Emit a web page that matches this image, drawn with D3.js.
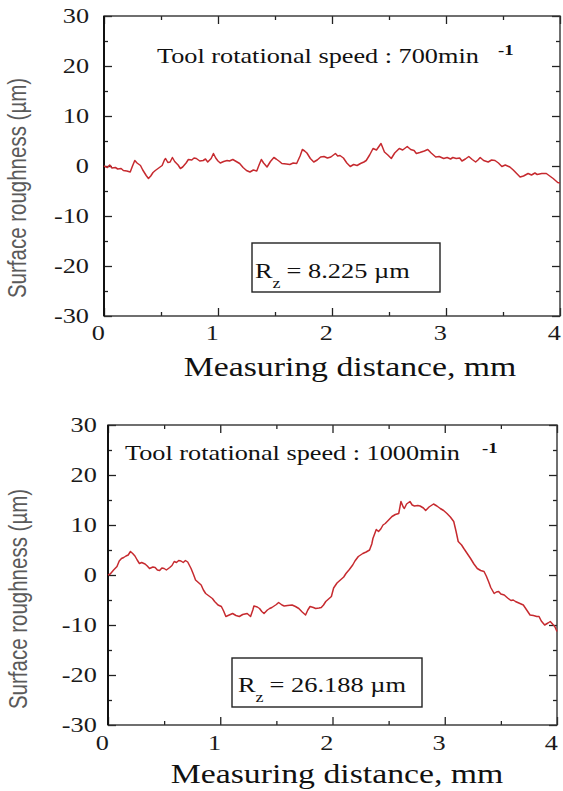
<!DOCTYPE html>
<html>
<head>
<meta charset="utf-8">
<script src="https://cdn.jsdelivr.net/npm/d3@7"></script>
<style>
  body { margin: 0; background: #fff; }
</style>
</head>
<body>
<div id="chart"></div>
<script>
// surface profile, tool speed 700 min^-1 (distance in mm, roughness in um)
const dist700 = [0.00,0.03,0.05,0.07,0.10,0.12,0.15,0.17,0.20,0.23,0.25,0.27,0.29,0.32,0.34,0.37,0.39,0.41,0.43,0.45,
  0.48,0.51,0.53,0.54,0.56,0.58,0.60,0.62,0.65,0.67,0.69,0.72,0.74,0.77,0.79,0.81,0.84,0.87,0.89,0.91,
  0.94,0.96,0.98,1.00,1.02,1.05,1.08,1.10,1.13,1.16,1.19,1.22,1.25,1.28,1.31,1.34,1.36,1.38,1.40,1.43,
  1.46,1.49,1.51,1.54,1.56,1.60,1.63,1.66,1.69,1.72,1.74,1.76,1.78,1.81,1.84,1.87,1.90,1.93,1.96,1.99,
  2.03,2.05,2.07,2.10,2.13,2.16,2.19,2.22,2.25,2.28,2.30,2.33,2.36,2.39,2.43,2.46,2.49,2.52,2.55,2.59,
  2.62,2.66,2.69,2.72,2.74,2.77,2.81,2.84,2.87,2.91,2.94,2.98,3.01,3.04,3.06,3.09,3.12,3.14,3.17,3.20,
  3.23,3.26,3.28,3.30,3.33,3.37,3.40,3.43,3.46,3.49,3.52,3.56,3.59,3.62,3.65,3.68,3.72,3.75,3.78,3.80,
  3.84,3.88,3.91,3.94,3.96,3.98,4.00];
const rough700 = [0.0,-0.3,0.2,-0.4,-0.3,-0.6,-0.5,-0.9,-1.0,-1.2,0.0,1.1,0.6,0.1,-0.8,-1.9,-2.5,-2.0,-1.3,-0.9,
  -0.4,0.1,1.2,1.5,0.7,0.8,1.7,0.9,0.2,-0.5,-0.2,0.6,1.3,1.2,1.6,1.5,1.0,1.1,1.4,0.8,
  1.5,2.5,1.6,1.0,0.6,0.9,1.1,1.0,1.3,0.9,0.5,-0.3,-0.9,-1.2,-0.8,-1.0,0.2,1.3,0.6,-0.2,
  0.9,1.7,1.4,0.9,0.5,0.4,0.3,0.6,0.5,2.0,3.3,3.0,2.6,1.5,0.8,1.2,1.8,1.9,1.6,1.8,
  2.5,2.0,2.1,1.6,0.6,-0.1,0.3,0.1,0.5,0.8,1.1,2.2,3.5,3.2,4.5,2.8,2.2,1.5,2.6,3.5,
  3.2,3.9,3.3,3.1,2.5,2.7,3.0,3.3,2.6,1.8,1.9,1.5,1.7,1.4,1.7,1.5,1.6,1.0,1.4,1.9,
  1.3,0.8,1.2,1.7,1.1,0.8,1.2,1.1,0.6,-0.1,0.2,-0.2,-0.8,-1.5,-2.2,-2.0,-1.5,-1.8,-1.4,-1.7,
  -1.5,-1.5,-2.0,-2.5,-2.9,-3.3,-3.4];

// surface profile, tool speed 1000 min^-1
const dist1000 = [0.00,0.02,0.05,0.08,0.10,0.12,0.14,0.16,0.18,0.20,0.22,0.24,0.26,0.28,0.30,0.33,0.35,0.37,0.40,0.42,
  0.44,0.46,0.48,0.50,0.52,0.55,0.57,0.59,0.61,0.63,0.65,0.67,0.69,0.71,0.74,0.76,0.78,0.81,0.83,0.85,
  0.87,0.90,0.93,0.95,0.98,1.01,1.03,1.05,1.08,1.11,1.14,1.17,1.20,1.24,1.27,1.29,1.30,1.33,1.35,1.37,
  1.39,1.42,1.44,1.46,1.48,1.50,1.52,1.55,1.57,1.60,1.64,1.67,1.70,1.73,1.76,1.78,1.80,1.83,1.85,1.88,
  1.90,1.92,1.94,1.96,1.99,2.01,2.04,2.07,2.10,2.12,2.15,2.18,2.20,2.23,2.25,2.27,2.30,2.33,2.35,2.36,
  2.38,2.39,2.41,2.43,2.45,2.47,2.50,2.53,2.56,2.59,2.61,2.63,2.64,2.66,2.69,2.71,2.73,2.76,2.78,2.81,
  2.83,2.86,2.90,2.93,2.96,2.99,3.02,3.05,3.08,3.10,3.12,3.15,3.17,3.20,3.23,3.26,3.29,3.32,3.35,3.37,
  3.39,3.41,3.44,3.46,3.48,3.50,3.53,3.56,3.59,3.61,3.63,3.66,3.70,3.73,3.76,3.79,3.82,3.84,3.86,3.89,
  3.92,3.94,3.96,3.98,4.00];
const rough1000 = [0.0,0.2,1.0,1.7,2.8,3.3,3.5,3.8,4.0,4.7,4.3,3.8,3.0,2.3,2.5,2.2,1.8,1.3,1.6,1.5,
  1.0,0.9,1.4,1.3,1.0,1.5,1.9,2.7,2.5,2.9,2.8,2.5,2.9,2.6,1.3,0.2,-1.0,-1.6,-2.0,-3.0,
  -3.7,-4.2,-4.7,-5.3,-6.0,-6.3,-7.2,-8.3,-8.0,-7.7,-8.1,-8.3,-7.9,-7.7,-8.3,-7.0,-6.2,-6.4,-6.7,-7.3,
  -7.7,-7.0,-6.7,-6.5,-6.2,-5.9,-5.5,-6.0,-6.2,-6.1,-6.0,-6.3,-6.7,-7.4,-8.0,-7.0,-6.3,-6.5,-6.7,-6.6,
  -6.5,-6.0,-5.3,-4.9,-4.3,-2.6,-1.6,-1.0,-0.4,0.3,1.1,2.0,2.8,3.7,4.0,4.3,4.6,5.0,6.2,7.3,
  8.5,9.1,8.7,9.2,10.0,10.3,11.0,11.7,12.1,12.3,14.7,13.6,13.3,14.2,14.7,14.0,13.8,13.9,13.8,13.4,
  12.9,13.6,14.2,13.8,13.3,12.9,12.3,11.6,10.7,8.8,6.7,6.0,5.3,4.3,3.3,2.2,1.3,0.9,0.7,-0.2,
  -1.3,-2.5,-3.7,-3.4,-3.3,-3.8,-4.0,-4.6,-5.1,-5.0,-5.3,-5.6,-6.0,-7.0,-8.0,-8.1,-8.3,-8.3,-9.2,-10.0,
  -9.6,-9.3,-9.8,-10.3,-11.3];

const xMajor = [0, 1, 2, 3, 4];
const xMinor = [0.5, 1.5, 2.5, 3.5];
const yMajor = [-30, -20, -10, 0, 10, 20, 30];
const yMinor = [-25, -15, -5, 5, 15, 25];
const speeds = ["700", "1000"];
const rzValues = ["8.225", "26.188"];

const W = 563, H = 791;
const SX = 1.25; // the source picture is stretched horizontally
const serif = "'Liberation Serif', 'Times New Roman', serif";

const layouts = [
  { left: 104, right: 560, top: 16, bottom: 316, yPad: 12, xPad: 9, yTitleX: 26, yTitleY: 188,
    xTitleX: 350, xTitleY: 376, note: [157, 63], sup: [498, 55], noteSize: 21,
    box: [252, 243, 188, 49], rz: [255, 278], rzSize: 22, rzStretch: 1.2 },
  { left: 108, right: 557, top: 425, bottom: 725, yPad: 9, xPad: 10, yTitleX: 27, yTitleY: 599,
    xTitleX: 337, xTitleY: 783, note: [125, 460], sup: [482, 453], noteSize: 21,
    box: [232, 658, 190, 49], rz: [238, 692], rzSize: 22, rzStretch: 1.2 }
];
const series = [
  { dist: dist700, rough: rough700 },
  { dist: dist1000, rough: rough1000 }
];

const svg = d3.select("#chart").append("svg")
  .attr("width", W).attr("height", H)
  .style("font-family", serif);

function stretchText(sel, k) {
  sel.attr("transform", `scale(${k},1)`);
}

series.forEach((s, i) => {
  const L = layouts[i];
  const x = d3.scaleLinear().domain([0, 4]).range([L.left, L.right]);
  const y = d3.scaleLinear().domain([-30, 30]).range([L.bottom, L.top]);
  const g = svg.append("g");

  // minor ticks (all four sides, inward)
  const minor = [
    [d3.axisLeft(y).tickValues(yMinor), `translate(${L.left},0)`],
    [d3.axisRight(y).tickValues(yMinor), `translate(${L.right},0)`],
    [d3.axisBottom(x).tickValues(xMinor), `translate(0,${L.bottom})`],
    [d3.axisTop(x).tickValues(xMinor), `translate(0,${L.top})`]
  ];
  minor.forEach(([ax, tr]) => {
    g.append("g").attr("transform", tr)
      .call(ax.tickSize(-4).tickFormat(""))
      .call(a => a.select(".domain").remove())
      .selectAll("line").attr("stroke", "#333").attr("stroke-width", 1.2);
  });

  // major ticks
  const yl = g.append("g").attr("transform", `translate(${L.left},0)`)
    .call(d3.axisLeft(y).tickValues(yMajor).tickSize(-8).tickPadding(L.yPad).tickFormat(d => String(d)));
  const xl = g.append("g").attr("transform", `translate(0,${L.bottom})`)
    .call(d3.axisBottom(x).tickValues(xMajor).tickSize(-8).tickPadding(L.xPad).tickFormat(d => String(d)));
  g.append("g").attr("transform", `translate(${L.right},0)`)
    .call(d3.axisRight(y).tickValues(yMajor).tickSize(-8).tickFormat(""));
  g.append("g").attr("transform", `translate(0,${L.top})`)
    .call(d3.axisTop(x).tickValues(xMajor).tickSize(-8).tickFormat(""));
  g.selectAll(".domain").remove();
  g.selectAll(".tick line").attr("stroke", "#222").attr("stroke-width", 1.3);
  [yl, xl].forEach(a => {
    a.attr("font-family", serif).attr("font-size", 21);
    a.selectAll("text").attr("fill", "#1a1a1a").call(stretchText, SX);
  });
  xl.selectAll("text").attr("dx", -5);

  // frame
  g.append("rect")
    .attr("x", L.left).attr("y", L.top)
    .attr("width", L.right - L.left).attr("height", L.bottom - L.top)
    .attr("fill", "none").attr("stroke", "#333").attr("stroke-width", 1.4);
  g.append("line")
    .attr("x1", L.left).attr("x2", L.left).attr("y1", L.top).attr("y2", L.bottom)
    .attr("stroke", "#111").attr("stroke-width", 2);

  // profile line
  const pts = s.dist.map((d, j) => [d, s.rough[j]]);
  g.append("path")
    .datum(pts)
    .attr("fill", "none")
    .attr("stroke", "#c62a2f")
    .attr("stroke-width", 1.5)
    .attr("stroke-linejoin", "round")
    .attr("d", d3.line().x(d => x(d[0])).y(d => y(d[1])));

  // axis titles
  g.append("text")
    .attr("transform", `translate(${L.yTitleX},${L.yTitleY}) scale(${SX},1) rotate(-90)`)
    .attr("text-anchor", "middle")
    .attr("font-family", "'Liberation Sans', Arial, sans-serif")
    .attr("font-size", 20.5)
    .attr("fill", "#5a5a5a")
    .text("Surface roughness (\u00b5m)");
  g.append("text")
    .attr("transform", `translate(${L.xTitleX},${L.xTitleY}) scale(${SX},1)`)
    .attr("text-anchor", "middle")
    .attr("font-size", 27)
    .attr("fill", "#111")
    .text("Measuring distance, mm");

  // speed note
  g.append("text")
    .attr("transform", `translate(${L.note[0]},${L.note[1]}) scale(${SX},1)`)
    .attr("font-size", L.noteSize)
    .attr("fill", "#111")
    .text(`Tool rotational speed : ${speeds[i]}min`);
  g.append("text")
    .attr("transform", `translate(${L.sup[0]},${L.sup[1]}) scale(${SX},1)`)
    .attr("font-size", 15)
    .attr("font-weight", "bold")
    .attr("fill", "#111")
    .text("-1");

  // Rz box
  g.append("rect")
    .attr("x", L.box[0]).attr("y", L.box[1])
    .attr("width", L.box[2]).attr("height", L.box[3])
    .attr("fill", "#fff").attr("stroke", "#222").attr("stroke-width", 1.4);
  const rz = g.append("text")
    .attr("transform", `translate(${L.rz[0]},${L.rz[1]}) scale(${L.rzStretch},1)`)
    .attr("font-size", L.rzSize)
    .attr("fill", "#111");
  rz.append("tspan").text("R");
  rz.append("tspan").attr("dx", 0).attr("dy", 10).attr("font-size", 15).text("z");
  rz.append("tspan").attr("dx", 5).attr("dy", -10).text(`= ${rzValues[i]} \u00b5m`);
});
</script>
</body>
</html>
